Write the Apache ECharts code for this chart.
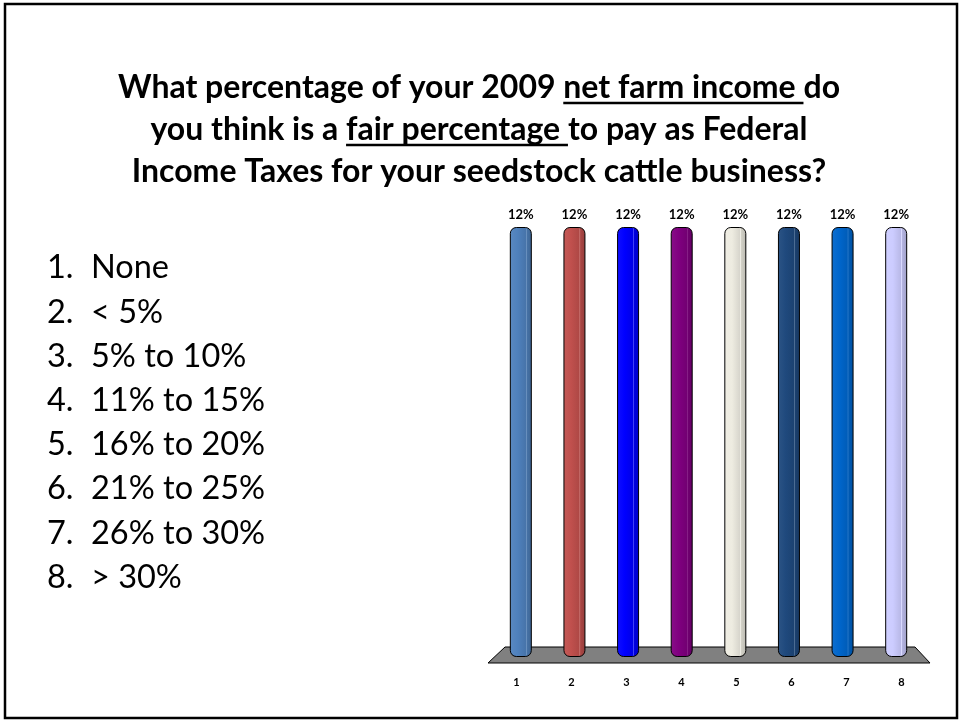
<!DOCTYPE html>
<html>
<head>
<meta charset="utf-8">
<script src="https://cdn.jsdelivr.net/npm/echarts@6/dist/echarts.min.js"></script>
<style>
  html, body { margin: 0; padding: 0; background: #ffffff; }
  #chart { width: 960px; height: 721px; }
</style>
</head>
<body>
<div id="chart"></div>
<script>
// Poll data
const categories = ['1', '2', '3', '4', '5', '6', '7', '8'];
const shares = [12, 12, 12, 12, 12, 12, 12, 12];
const barColors = ['#4F81BD', '#C0504D', '#0000FF', '#800080', '#EEECE1', '#1F497D', '#0066CC', '#CCCCFF'];
const answerChoices = ['None', '< 5%', '5% to 10%', '11% to 15%', '16% to 20%', '21% to 25%', '26% to 30%', '> 30%'];

// Question text, split into runs; the second run of the first two lines is underlined
const questionLines = [
  ['What percentage of your 2009 ', 'net farm income ', 'do'],
  ['you think is a ', 'fair percentage ', 'to pay as Federal'],
  ['Income Taxes for your seedstock cattle business?']
];

const FONT = 'Lato, "Open Sans", sans-serif';

function shade(hex, f) {
  const n = parseInt(hex.slice(1), 16);
  let r = (n >> 16) & 255, g = (n >> 8) & 255, b = n & 255;
  const m = c => Math.max(0, Math.min(255, Math.round(f < 0 ? c * (1 + f) : c + (255 - c) * f)));
  return 'rgb(' + m(r) + ',' + m(g) + ',' + m(b) + ')';
}

function cylinder(hex) {
  return new echarts.graphic.LinearGradient(0, 0, 1, 0, [
    { offset: 0, color: shade(hex, 0.06) },
    { offset: 0.35, color: hex },
    { offset: 0.72, color: shade(hex, -0.10) },
    { offset: 0.74, color: shade(hex, 0.30) },
    { offset: 0.78, color: shade(hex, -0.12) },
    { offset: 1, color: shade(hex, -0.22) }
  ]);
}

const chart = echarts.init(document.getElementById('chart'), null, { renderer: 'canvas' });

// size the heading so its first line spans the slide's text block
const measureCtx = document.createElement('canvas').getContext('2d');
measureCtx.font = 'bold 100px ' + FONT;
const firstLineWidth = measureCtx.measureText(questionLines[0].join('')).width;
const titleFontSize = Math.round(100 * 722 / firstLineWidth * 10) / 10;
measureCtx.font = 'bold ' + titleFontSize + 'px ' + FONT;

const graphics = [];
// slide frame
graphics.push({
  type: 'rect', shape: { x: 5, y: 4, width: 952, height: 714 },
  style: { fill: '#ffffff', stroke: '#000000', lineWidth: 2.5 }, z: -10
});

const titleCenter = 479;
const titleMid = [88, 130, 172];
questionLines.forEach((runs, li) => {
  const widths = runs.map(r => measureCtx.measureText(r).width);
  const total = widths.reduce((a, b) => a + b, 0);
  let x = titleCenter - total / 2;
  runs.forEach((run, ri) => {
    graphics.push({
      type: 'text', x: x, y: titleMid[li],
      style: { text: run, font: 'bold ' + titleFontSize + 'px ' + FONT, fill: '#000', verticalAlign: 'middle', align: 'left' }
    });
    if (runs.length === 3 && ri === 1) {
      graphics.push({
        type: 'line', shape: { x1: x, y1: titleMid[li] + 15, x2: x + widths[ri], y2: titleMid[li] + 15 },
        style: { stroke: '#000', lineWidth: 2.4 }
      });
    }
    x += widths[ri];
  });
});

// numbered answer list
answerChoices.forEach((txt, i) => {
  const y = 268 + i * 44.2;
  graphics.push({
    type: 'text', x: 47, y: y,
    style: { text: (i + 1) + '.', font: '32.5px ' + FONT, fill: '#000', verticalAlign: 'middle' }
  });
  graphics.push({
    type: 'text', x: 91, y: y,
    style: { text: txt, font: '32.5px ' + FONT, fill: '#000', verticalAlign: 'middle' }
  });
});

// chart floor
graphics.push({
  type: 'polygon', z: 0,
  shape: { points: [[505, 647], [915, 647], [930, 663], [488, 663]] },
  style: { fill: '#808080', stroke: '#000', lineWidth: 1 }
});

chart.setOption({
  animation: false,
  backgroundColor: '#ffffff',
  graphic: graphics,
  grid: [
    { left: 494, right: 37, top: 227, bottom: 64 },
    { left: 489, right: 31, top: 656, bottom: 64 }
  ],
  xAxis: [
    {
      type: 'category', gridIndex: 0, data: categories,
      axisLine: { show: false }, axisTick: { show: false }, axisLabel: { show: false }
    },
    {
      type: 'category', gridIndex: 1, data: categories,
      axisLine: { show: false }, axisTick: { show: false },
      axisLabel: { margin: 20, fontSize: 11, fontWeight: 'bold', color: '#000', fontFamily: FONT }
    }
  ],
  yAxis: [
    { type: 'value', gridIndex: 0, min: 0, max: 12, show: false },
    { type: 'value', gridIndex: 1, min: 0, max: 1, show: false }
  ],
  series: [{
    type: 'bar',
    xAxisIndex: 0, yAxisIndex: 0,
    barWidth: 22,
    z: 5,
    data: shares.map((v, i) => ({
      value: v,
      itemStyle: { color: cylinder(barColors[i]) }
    })),
    itemStyle: { borderColor: '#000', borderWidth: 1, borderRadius: [6, 6, 6, 6] },
    label: {
      show: true, position: 'top', distance: 6,
      formatter: '{c}%', fontSize: 13, fontWeight: 'bold', color: '#000', fontFamily: FONT
    }
  }]
});
</script>
</body>
</html>
